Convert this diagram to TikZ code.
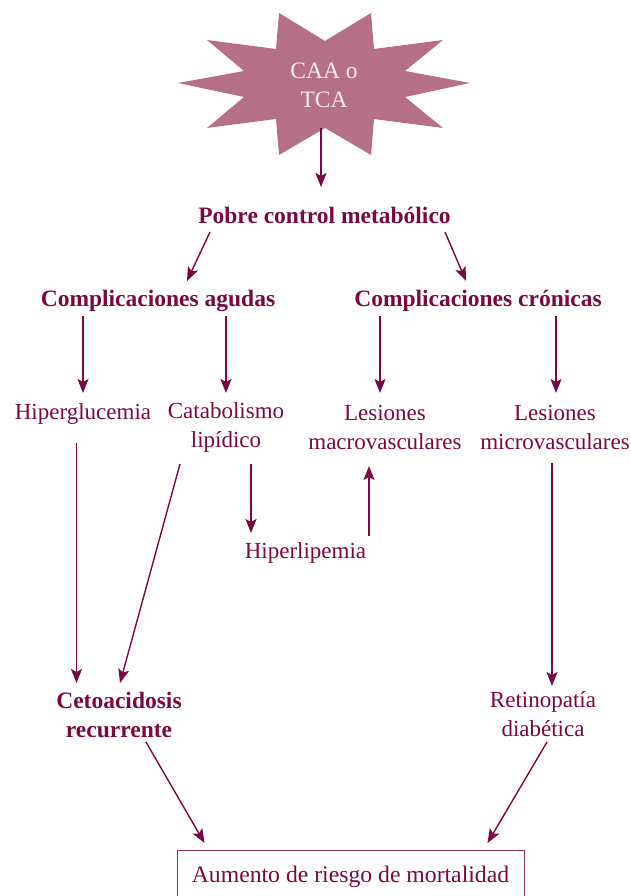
\documentclass[tikz,border=0pt]{standalone}
\usepackage{fontspec}
\setmainfont{Liberation Serif}
\usetikzlibrary{arrows.meta}
\definecolor{wine}{RGB}{122,8,66}
\definecolor{starfill}{RGB}{181,112,135}
\definecolor{boxline}{RGB}{140,50,90}
\tikzset{
  lbl/.style={text=wine, font=\fontsize{23}{29}\selectfont, align=center, inner sep=0pt},
  blbl/.style={lbl, font=\fontsize{23.5}{29}\selectfont\bfseries},
  arr/.style={draw=wine, line width=1.4pt, -{Stealth[length=14pt,width=11pt,inset=3pt]}},
  plain/.style={draw=wine, line width=1.4pt}
}
\begin{document}
\begin{tikzpicture}[x=1pt,y=-1pt]
\useasboundingbox (0,0) rectangle (630,896);
% star
\fill[starfill] (279,13) -- (325,41) -- (371,13) -- (374,49) -- (443,40) -- (405,71) -- (470,83) -- (405,97) -- (443,128) -- (374,119) -- (371,155) -- (325,128) -- (279,155) -- (276,119) -- (207,128) -- (244,97) -- (178,83) -- (244,71) -- (207,40) -- (276,49) -- cycle;
\node[lbl, font=\fontsize{23.5}{29}\selectfont, text={rgb,255:red,248;green,236;blue,240}] (star) at (324,85) {CAA o\\TCA};
\node[blbl] (pobre) at (324.5,215) {Pobre control metabólico};
\node[blbl] (agudas) at (158,301) {Complicaciones agudas};
\node[blbl] (cronicas) at (478,301) {Complicaciones crónicas};
\node[lbl] (hiperg) at (83,414) {Hiperglucemia};
\node[lbl] (catab) at (226,427) {Catabolismo\\lipídico};
\node[lbl] (macro) at (385,427) {Lesiones\\macrovasculares};
\node[lbl] (micro) at (555,427) {Lesiones\\microvasculares};
\node[lbl] (hiperl) at (305.5,553) {Hiperlipemia};
\node[blbl] (ceto) at (119,715) {Cetoacidosis\\recurrente};
\node[lbl] (retino) at (543,714) {Retinopatía\\diabética};
\node[lbl, font=\fontsize{23.7}{29}\selectfont, draw=boxline, line width=1pt, minimum width=347pt, minimum height=50pt, text depth=2pt] (aumento) at (350.5,875) {Aumento de riesgo de mortalidad};
% connectors
\draw[arr] ([shift={(-3,43)}]star.center) -- ([shift={(-3.5,-28)}]pobre.center);
\draw[arr] ([shift={(-114.5,17)}]pobre.center) -- ([shift={(29,-20)}]agudas.center);
\draw[arr] ([shift={(120.5,17)}]pobre.center) -- ([shift={(-12,-20)}]cronicas.center);
\draw[arr] ([shift={(-75,15)}]agudas.center) -- ([shift={(0,-21)}]hiperg.center);
\draw[arr] ([shift={(68,15)}]agudas.center) -- ([shift={(0,-34)}]catab.center);
\draw[arr] ([shift={(-98,15)}]cronicas.center) -- ([shift={(-5,-34)}]macro.center);
\draw[arr] ([shift={(78,15)}]cronicas.center) -- ([shift={(1,-34)}]micro.center);
\draw[arr] ([shift={(-6.5,29)}]hiperg.center) -- ([shift={(-42.5,-32)}]ceto.center);
\draw[arr] ([shift={(-46,37)}]catab.center) -- ([shift={(1,-32)}]ceto.center);
\draw[arr] ([shift={(25,37)}]catab.center) -- ([shift={(-54.5,-20)}]hiperl.center);
\draw[arr] ([shift={(63.5,-17)}]hiperl.center) -- ([shift={(-16,39)}]macro.center);
\draw[arr] ([shift={(-3,36)}]micro.center) -- ([shift={(9,-28)}]retino.center);
\draw[arr] ([shift={(27,27)}]ceto.center) -- ([shift={(-146,-32)}]aumento.center);
\draw[arr] ([shift={(4,28)}]retino.center) -- ([shift={(137,-32)}]aumento.center);
\end{tikzpicture}
\end{document}
